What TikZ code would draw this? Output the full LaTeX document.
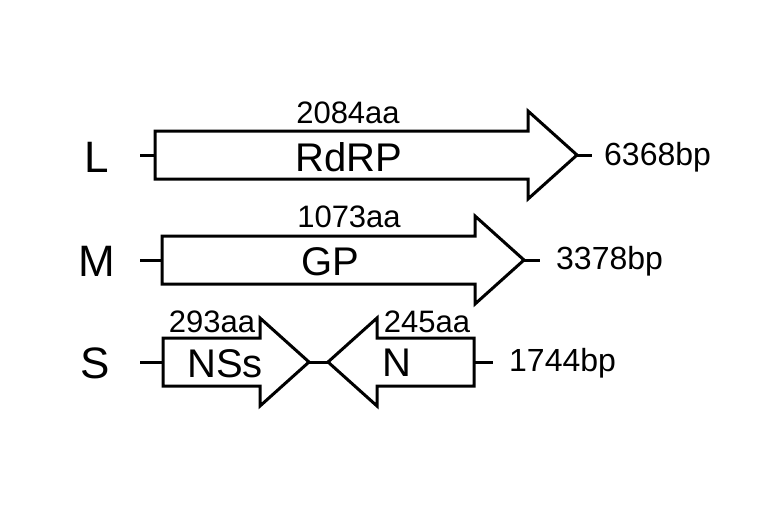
\documentclass[tikz,border=0pt]{standalone}
\usepackage{fontspec}
\setmainfont{Liberation Sans}
\begin{document}
\begin{tikzpicture}[x=1pt,y=-1pt,
  genebox/.style={draw=black,line width=3pt,fill=white,line join=miter},
  tickline/.style={draw=black,line width=3pt},
  seglabel/.style={font=\fontsize{44}{44}\selectfont,inner sep=0pt},
  genename/.style={font=\fontsize{40}{40}\selectfont,inner sep=0pt},
  aalabel/.style={font=\fontsize{31}{31}\selectfont,inner sep=0pt},
  bplabel/.style={font=\fontsize{32}{32}\selectfont,inner sep=0pt,anchor=west}]
\useasboundingbox[fill=white] (0,0) rectangle (768,512);
% ---- L segment ----
\coordinate (Ls) at (140,155);
\coordinate (La) at (155,155);
\coordinate (Lt) at (577,155);
\coordinate (Le) at (592,155);
\draw[genebox] (155,131) -- (528,131) -- (528,111) -- (Lt) -- (528,199) -- (528,179) -- (155,179) -- cycle;
\draw[tickline] (Ls) -- (La);
\draw[tickline] (Lt) -- (Le);
\node[seglabel] (Llab) at (97,157) {L};
\node[genename] (Lname) at (349,157) {RdRP};
\node[aalabel] (Laa) at (348,113) {2084aa};
\node[bplabel] (Lbp) at (604,157) {6368bp};
% ---- M segment ----
\coordinate (Ms) at (140,260);
\coordinate (Ma) at (162,260);
\coordinate (Mt) at (524,260);
\coordinate (Me) at (540,260);
\draw[genebox] (162,236) -- (475,236) -- (475,216) -- (Mt) -- (475,304) -- (475,284) -- (162,284) -- cycle;
\draw[tickline] (Ms) -- (Ma);
\draw[tickline] (Mt) -- (Me);
\node[seglabel] (Mlab) at (97,261) {M};
\node[genename] (Mname) at (330,262) {GP};
\node[aalabel] (Maa) at (349,217) {1073aa};
\node[bplabel] (Mbp) at (556,261) {3378bp};
% ---- S segment ----
\coordinate (Ss) at (140,362);
\coordinate (Sa) at (163,362);
\coordinate (St1) at (309,362);
\coordinate (St2) at (328,362);
\coordinate (Sb) at (474,362);
\coordinate (Se) at (493,362);
\draw[genebox] (163,338) -- (260,338) -- (260,318) -- (St1) -- (260,406) -- (260,386) -- (163,386) -- cycle;
\draw[genebox] (474,338) -- (377,338) -- (377,318) -- (St2) -- (377,406) -- (377,386) -- (474,386) -- cycle;
\draw[tickline] (Ss) -- (Sa);
\draw[tickline] (St1) -- (St2);
\draw[tickline] (Sb) -- (Se);
\node[seglabel] (Slab) at (95,363) {S};
\node[genename] (Sname1) at (225,364) {NSs};
\node[genename] (Sname2) at (397,363) {N};
\node[aalabel] (Saa1) at (212,322) {293aa};
\node[aalabel] (Saa2) at (427,322) {245aa};
\node[bplabel] (Sbp) at (509,363) {1744bp};
\end{tikzpicture}
\end{document}
